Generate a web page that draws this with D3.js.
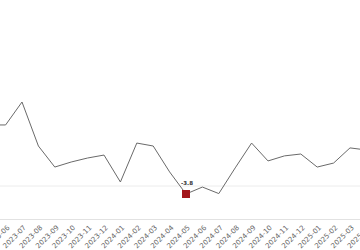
<!DOCTYPE html>
<html>
<head>
<meta charset="utf-8">
<script src="https://cdn.jsdelivr.net/npm/d3@7"></script>
<style>
    body { margin: 0; background: #fff; }
    svg { display: block; }
</style>
</head>
<body>
<svg id="chart" width="360" height="250"></svg>
<script>
// months shown (first and last fall just outside the visible area)
var months = ["2023-05", "2023-06", "2023-07", "2023-08", "2023-09", "2023-10", "2023-11", "2023-12",
    "2024-01", "2024-02", "2024-03", "2024-04", "2024-05", "2024-06", "2024-07", "2024-08",
    "2024-09", "2024-10", "2024-11", "2024-12", "2025-01", "2025-02", "2025-03", "2025-04"];

var values = [29.0, 29.0, 39.9, 19.0, 9.0, 11.4, 13.3, 14.7,
    1.9, 20.4, 19.0, 6.7, -3.8, -0.5, -3.6, 8.6,
    20.4, 11.9, 14.3, 15.2, 9.0, 10.9, 18.1, 17.1];

var gridValues = [0];

var width = 360, height = 250;
var margin = { top: 20, bottom: 31 };

var svg = d3.select("#chart");

var data = months.map(function (m, i) { return { name: m, value: values[i] }; });

var xScale = d3.scalePoint()
    .domain(months)
    .range([-10.8, 366.4]);

var yScale = d3.scaleLinear()
    .domain([0, 40])
    .range([186, 101.8]);

// faint zero line
svg.selectAll("line.grid").data(gridValues).enter().append("line")
    .attr("class", "grid")
    .attr("x1", 0).attr("x2", width)
    .attr("y1", function (d) { return yScale(d); })
    .attr("y2", function (d) { return yScale(d); })
    .attr("stroke", "#ececec")
    .attr("stroke-width", 1);

// x axis
var xAxis = d3.axisBottom(xScale).tickSize(0).tickPadding(0);
var axisG = svg.append("g")
    .attr("transform", "translate(0," + (height - margin.bottom) + ")")
    .call(xAxis);

axisG.select(".domain").attr("stroke", "#e2e2e2").attr("d", "M0,0.5H" + width);

axisG.selectAll("text")
    .attr("fill", "#666")
    .style("font-family", "'DejaVu Sans', sans-serif")
    .style("font-size", "7px")
    .attr("text-anchor", "end")
    .attr("dy", null)
    .attr("y", 0)
    .attr("transform", "translate(4,9) rotate(-45)");

var line = d3.line()
    .x(function (d) { return xScale(d.name); })
    .y(function (d) { return yScale(d.value); });

svg.append("path")
    .datum(data)
    .attr("fill", "none")
    .attr("stroke", "#6a6a6a")
    .attr("stroke-width", 1)
    .attr("d", line);

// minimum marker
var minPoint = data.reduce(function (a, b) { return b.value < a.value ? b : a; });

svg.append("rect")
    .attr("x", xScale(minPoint.name) - 4)
    .attr("y", yScale(minPoint.value) - 4)
    .attr("width", 8)
    .attr("height", 8)
    .attr("fill", "#a3171b");

svg.append("text")
    .attr("x", xScale(minPoint.name) + 1)
    .attr("y", yScale(minPoint.value) - 9)
    .attr("text-anchor", "middle")
    .style("font-family", "'DejaVu Sans', sans-serif")
    .style("font-size", "5.5px")
    .style("font-weight", "bold")
    .attr("fill", "#333")
    .text(minPoint.value.toFixed(1));
</script>
</body>
</html>
